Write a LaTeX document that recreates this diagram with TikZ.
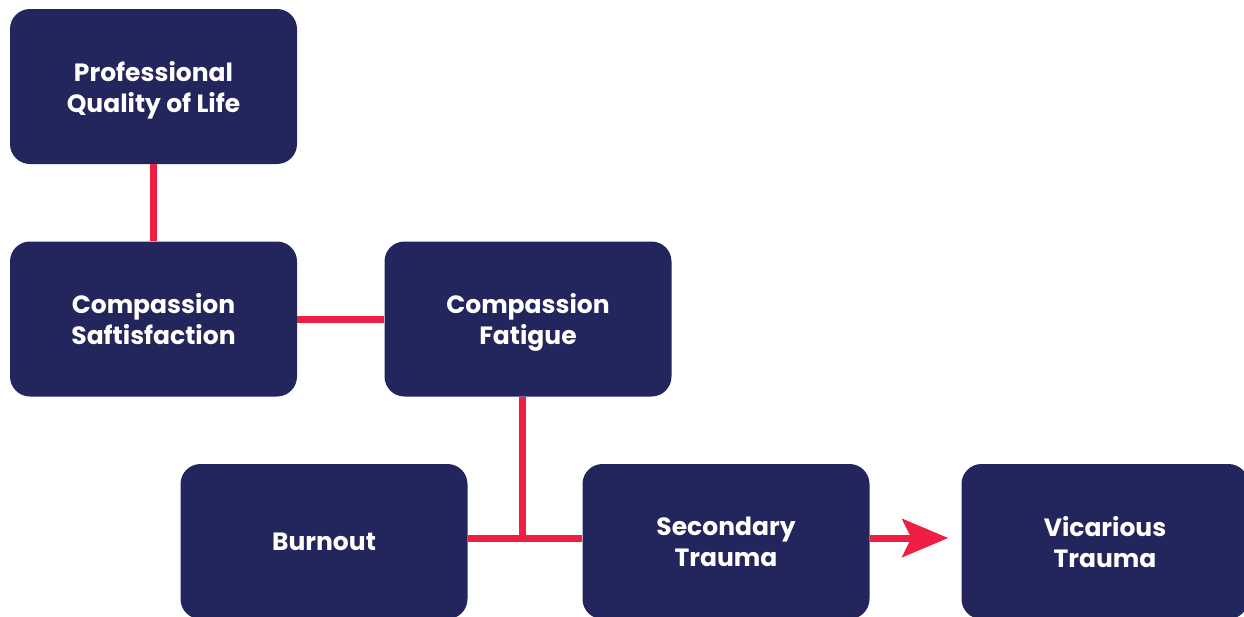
\documentclass[tikz,border=0pt]{standalone}
\usepackage{fontspec}
\setmainfont{Poppins}[BoldFont=* Bold]
\usetikzlibrary{arrows.meta, positioning, calc}

\definecolor{navy}{HTML}{22265C}
\definecolor{linkred}{HTML}{EE1F42}

\tikzset{
    qolbox/.style={fill=navy, rounded corners=20pt, minimum width=287pt, minimum height=155pt,
        text=white, align=center, font=\bfseries\fontsize{25}{31}\selectfont, inner sep=0pt,
        text depth=0pt},
    link/.style={draw=linkred, line width=7pt}
}

\begin{document}
\begin{tikzpicture}[x=1pt, y=-1pt]
    \useasboundingbox (0,0) rectangle (1244,616);
    \clip (0,0) rectangle (1244,616);

    % boxes
    \node[qolbox] (prof) at (153.5,86.5) {Professional\\Quality of Life};
    \node[qolbox] (sat) at (153.5,319) {Compassion\\Saftisfaction};
    \node[qolbox] (fat) at (528,319) {Compassion\\Fatigue};
    \node[qolbox] (burn) at (324,541.5) {Burnout};
    \node[qolbox] (sec) at (726,541.5) {Secondary\\Trauma};
    \node[qolbox] (vic) at (1105,541.5) {Vicarious\\Trauma};

    % links
    \coordinate (jn) at (522,538);
    \draw[link] (prof.south) -- (sat.north);
    \draw[link] (sat.east) -- (fat.west);
    \draw[link] (jn |- fat.south) -- (jn);
    \draw[link] (burn.east |- jn) -- (sec.west |- jn);
    \draw[link, -{Stealth[length=46pt, width=38pt, inset=9pt]}, shorten >=13pt]
        (sec.east |- jn) -- (vic.west |- jn);
\end{tikzpicture}
\end{document}
